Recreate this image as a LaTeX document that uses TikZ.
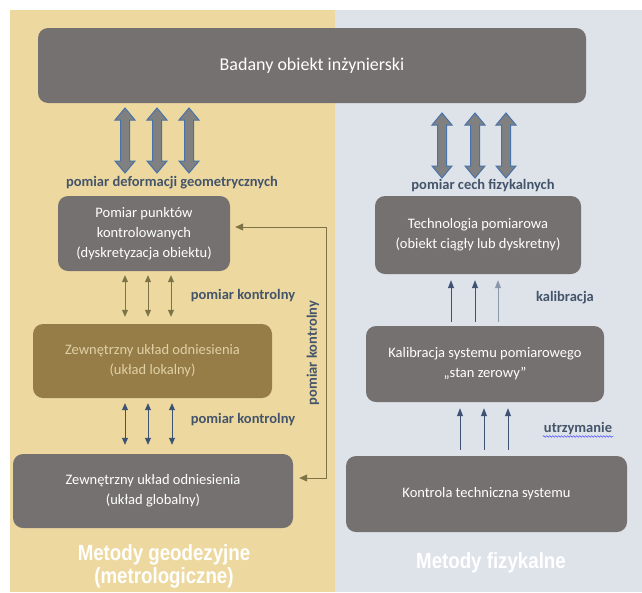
\documentclass[tikz,border=0pt]{standalone}
\usepackage{fontspec}
\setmainfont{Carlito}
\newfontfamily\narrowfont[FakeStretch=0.85]{Liberation Sans}
\usetikzlibrary{arrows.meta,decorations.pathmorphing}
\definecolor{yellowbg}{RGB}{237,217,160}
\definecolor{greybg}{RGB}{222,227,234}
\definecolor{boxgray}{RGB}{118,113,113}
\definecolor{olivebox}{RGB}{150,125,72}
\definecolor{olivetext}{RGB}{224,208,165}
\definecolor{labelblue}{RGB}{68,84,106}
\definecolor{olivearrow}{RGB}{125,115,70}
\definecolor{navyarrow}{RGB}{62,82,115}
\definecolor{arrowfill}{RGB}{128,128,128}
\definecolor{arrowedge}{RGB}{72,114,170}
\tikzset{
        box/.style={rounded corners=10pt, fill=boxgray, text=white, align=center, inner sep=0pt,
                font=\fontsize{14.5}{20}\selectfont},
        lbl/.style={text=labelblue, inner sep=1pt, font=\bfseries\fontsize{14.5}{16}\selectfont},
        bottomlbl/.style={text=white, align=center, font=\narrowfont\bfseries\fontsize{22}{23}\selectfont},
        blockarrow/.style={fill=arrowfill, draw=arrowedge, line width=1pt, line join=miter},
        olivedbl/.style={{Triangle[length=7pt,width=6pt]}-{Triangle[length=7pt,width=6pt]}, olivearrow, line width=0.8pt},
        navydbl/.style={{Triangle[length=7pt,width=6pt]}-{Triangle[length=7pt,width=6pt]}, navyarrow, line width=0.8pt},
        uparrow/.style={-{Triangle[length=8pt,width=6pt]}, navyarrow, line width=0.8pt},
        fbline/.style={{Triangle[length=8pt,width=7pt]}-{Triangle[length=8pt,width=7pt]}, olivearrow, line width=0.8pt},
        squiggle/.style={decorate, decoration={snake, amplitude=0.8pt, segment length=3pt}, blue!70, line width=0.5pt}
}
\begin{document}
\begin{tikzpicture}[x=1pt, y=-1pt]
        \useasboundingbox (0,0) rectangle (642,592);
        \fill[yellowbg] (10,10) rectangle (335,592);
        \fill[greybg] (335,10) rectangle (642,592);

        \node[box, minimum width=548pt, minimum height=75pt, font=\fontsize{18}{20}\selectfont] (obj) at (312,65.5) {Badany obiekt inżynierski};
        \node[box, minimum width=172pt, minimum height=75pt] (pk) at (144,233.5) {Pomiar punktów\\kontrolowanych\\(dyskretyzacja obiektu)};
        \node[box, fill=olivebox, text=olivetext, minimum width=239pt, minimum height=74pt] (zl) at (152.5,361) {Zewnętrzny układ odniesienia\\(układ lokalny)};
        \node[box, minimum width=280pt, minimum height=74pt] (zg) at (153,491) {Zewnętrzny układ odniesienia\\(układ globalny)};
        \node[box, minimum width=206pt, minimum height=78pt] (tp) at (478,235) {Technologia pomiarowa\\(obiekt ciągły lub dyskretny)};
        \node[box, minimum width=238pt, minimum height=76pt] (ks) at (485,364) {Kalibracja systemu pomiarowego\\„stan zerowy”};
        \node[box, minimum width=281pt, minimum height=76pt] (kt) at (486.5,494) {Kontrola techniczna systemu};

        \foreach \x/\y in {125/108, 157/108, 189/108, 442/113, 475/113, 506/113} {
                \filldraw[blockarrow] (\x,\y) -- ++(10,12) -- ++(-5.5,0) -- ++(0,41) -- ++(5.5,0) -- ++(-10,12)
                        -- ++(-10,-12) -- ++(5.5,0) -- ++(0,-41) -- ++(-5.5,0) -- cycle;
            }

        \node[lbl] (pdg) at (172,183) {pomiar deformacji geometrycznych};
        \node[lbl] (pcf) at (483,186) {pomiar cech fizykalnych};
        \node[lbl] (pk1) at (243,296) {pomiar kontrolny};
        \node[lbl] (pk2) at (243,420) {pomiar kontrolny};
        \node[lbl, rotate=90] (pk3) at (313,353) {pomiar kontrolny};
        \node[lbl] (kal) at (565,298) {kalibracja};
        \node[lbl] (utr) at (578,429) {utrzymanie};
        \draw[squiggle] (utr.south west) -- (utr.south east);

        \foreach \x in {125,148,171} {
                \draw[olivedbl, shorten <=4pt, shorten >=7pt] (\x,0 |- pk.south) -- (\x,0 |- zl.north);
            }
        \foreach \x in {125,148,172} {
                \draw[navydbl, shorten <=5pt, shorten >=9pt] (\x,0 |- zl.south) -- (\x,0 |- zg.north);
            }
        \foreach \x/\c in {451/navyarrow, 475/navyarrow, 498/navyarrow!60} {
                \draw[uparrow, \c, shorten <=4pt, shorten >=6pt] (\x,0 |- ks.north) -- (\x,0 |- tp.south);
            }
        \foreach \x in {460,484,508} {
                \draw[uparrow, shorten <=6pt, shorten >=6pt] (\x,0 |- kt.north) -- (\x,0 |- ks.south);
            }

        \coordinate (fbtop) at (326,227);
        \coordinate (fbbot) at (326,478);
        \draw[fbline, shorten <=5pt, shorten >=6pt] (pk.east |- fbtop) -- (fbtop) -- (fbbot) -- (zg.east |- fbbot);

        \node[bottomlbl] (mg) at (164,566) {Metody geodezyjne\\(metrologiczne)};
        \node[bottomlbl] (mf) at (491,563) {Metody fizykalne};
    \end{tikzpicture}
\end{document}
